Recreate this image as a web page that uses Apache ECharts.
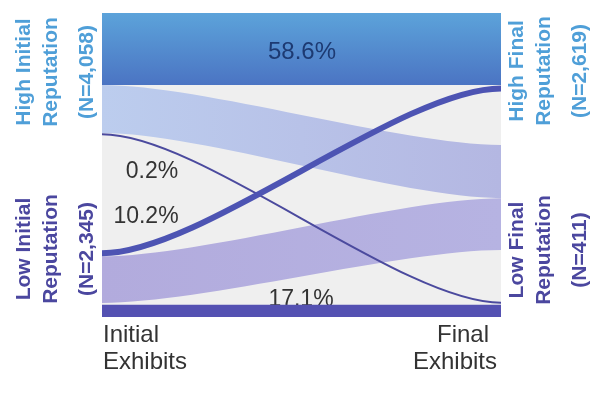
<!DOCTYPE html>
<html>
<head>
<meta charset="utf-8">
<script src="https://cdn.jsdelivr.net/npm/echarts@6/dist/echarts.min.js"></script>
<style>
  html, body { margin: 0; padding: 0; background: #fff; }
  #main { width: 600px; height: 398px; }
</style>
</head>
<body>
<div id="main"></div>
<script>
// 两列：0 = Initial Exhibits, 1 = Final Exhibits；纵轴 0-100 为自上而下的份额位置
const stages = ['Initial', 'Final'];

// 宽带：左侧上沿/下沿，右侧上沿/下沿
const bandNames = ['High → High', 'High → Low', 'Low → Low (shift)', 'Low → Low'];
const bandLeftTop = [0, 23.7, 80.0, 96.0];
const bandLeftBottom = [23.7, 39.5, 95.4, 100];
const bandRightTop = [0, 43.4, 60.9, 96.0];
const bandRightBottom = [23.7, 60.9, 78.0, 100];

// 细线和粗线：左右两端的中心位置
const lineNames = ['High → bottom', 'Low → High'];
const lineLeft = [39.9, 79.0];
const lineRight = [95.3, 24.8];

// 文本
const pctLabels = ['58.6%', '0.2%', '10.2%', '17.1%'];
const highInitial = ['High Initial', 'Reputation', '(N=4,058)'];
const lowInitial = ['Low Initial', 'Reputation', '(N=2,345)'];
const highFinal = ['High Final', 'Reputation', '(N=2,619)'];
const lowFinal = ['Low Final', 'Reputation', '(N=411)'];
const stageLabels = [['Initial', 'Exhibits'], ['Final', 'Exhibits']];

(function () {
    let myChart = echarts.init(document.getElementById('main'));
    const LG = echarts.graphic.LinearGradient;

    // 带子颜色
    const bandColors = [
        new LG(0, 0, 0, 1, [{ offset: 0, color: '#5ca3da' }, { offset: 1, color: '#4b74c3' }]),
        new LG(0, 0, 1, 0, [{ offset: 0, color: '#bccdee' }, { offset: 1, color: '#b4b7e2' }]),
        new LG(0, 0, 1, 0, [{ offset: 0, color: '#b2abdd' }, { offset: 1, color: '#b6b3e2' }]),
        '#5451b2'
    ];
    const lineColors = ['#4b4a9e', '#4d54b3'];
    const lineWidths = [2, 6];
    // 曲线控制点位置（占宽度比例）
    const ease = 0.25;

    function curve(a, b) {
        const c1 = a[0] + (b[0] - a[0]) * ease;
        const c2 = b[0] - (b[0] - a[0]) * ease;
        return 'C' + c1 + ' ' + a[1] + ' ' + c2 + ' ' + b[1] + ' ' + b[0] + ' ' + b[1];
    }

    function renderBand(params, api) {
        const lt = api.coord([0, api.value(0)]);
        const lb = api.coord([0, api.value(1)]);
        const rt = api.coord([1, api.value(2)]);
        const rb = api.coord([1, api.value(3)]);
        const d = 'M' + lt[0] + ' ' + lt[1] + curve(lt, rt) +
            'L' + rb[0] + ' ' + rb[1] + curve(rb, lb) + 'Z';
        return {
            type: 'path',
            shape: { pathData: d },
            style: { fill: bandColors[params.dataIndex] }
        };
    }

    function renderLine(params, api) {
        const l = api.coord([0, api.value(0)]);
        const r = api.coord([1, api.value(1)]);
        const d = 'M' + l[0] + ' ' + l[1] + curve(l, r);
        return {
            type: 'path',
            shape: { pathData: d },
            style: {
                fill: null,
                stroke: lineColors[params.dataIndex],
                lineWidth: lineWidths[params.dataIndex]
            }
        };
    }

    const font = 'bold 21px "Liberation Sans", Arial, sans-serif';
    function vertical(lines, xs, y, color) {
        return lines.map(function (t, i) {
            return {
                type: 'text', x: xs[i], y: y, rotation: Math.PI / 2, z: 100,
                style: { text: t, font: font, fill: color, align: 'center', verticalAlign: 'middle' }
            };
        });
    }
    const leftX = [24, 51, 87];
    const rightX = [517, 544, 580];
    const blue = '#4f9fd8';
    const purple = '#4b479f';

    const txt = function (t, x, y, opt) {
        return {
            type: 'text', x: x, y: y, z: opt.z || 100,
            style: {
                text: t, font: opt.font || '24px "Liberation Sans", Arial, sans-serif',
                fill: opt.fill || '#333', align: opt.align || 'center', verticalAlign: 'middle'
            }
        };
    };

    let option = {
        animation: false,
        grid: {
            left: 102, right: 99, top: 13, bottom: 81,
            show: true, backgroundColor: '#efefef', borderWidth: 0
        },
        xAxis: { type: 'value', min: 0, max: 1, show: false },
        yAxis: { type: 'value', min: 0, max: 100, inverse: true, show: false },
        series: [
            {
                name: 'bands', type: 'custom', z: 2,
                renderItem: renderBand,
                data: bandNames.map(function (n, i) {
                    return { name: n, value: [bandLeftTop[i], bandLeftBottom[i], bandRightTop[i], bandRightBottom[i]] };
                })
            },
            {
                name: 'lines', type: 'custom', z: 3,
                renderItem: renderLine,
                data: lineNames.map(function (n, i) {
                    return { name: n, value: [lineLeft[i], lineRight[i]] };
                })
            }
        ],
        graphic: [].concat(
            vertical(highInitial, leftX, 72, blue),
            vertical(lowInitial, leftX, 249, purple),
            vertical(highFinal, rightX, 71, blue),
            vertical(lowFinal, rightX, 250, purple),
            [
                txt(pctLabels[0], 302, 52, { fill: '#1d3a72' }),
                txt(pctLabels[1], 152, 172, { font: '23px "Liberation Sans", Arial, sans-serif' }),
                txt(pctLabels[2], 146, 217, { font: '23px "Liberation Sans", Arial, sans-serif' }),
                txt(pctLabels[3], 301, 300, { font: '23px "Liberation Sans", Arial, sans-serif', z: 1 }),
                txt(stageLabels[0][0], 103, 335, { align: 'left' }),
                txt(stageLabels[0][1], 103, 362, { align: 'left' }),
                txt(stageLabels[1][0], 489, 335, { align: 'right' }),
                txt(stageLabels[1][1], 497, 362, { align: 'right' })
            ]
        )
    };

    myChart.setOption(option);
    window.addEventListener('resize', function () {
        myChart.resize();
    });
})();
</script>
</body>
</html>
